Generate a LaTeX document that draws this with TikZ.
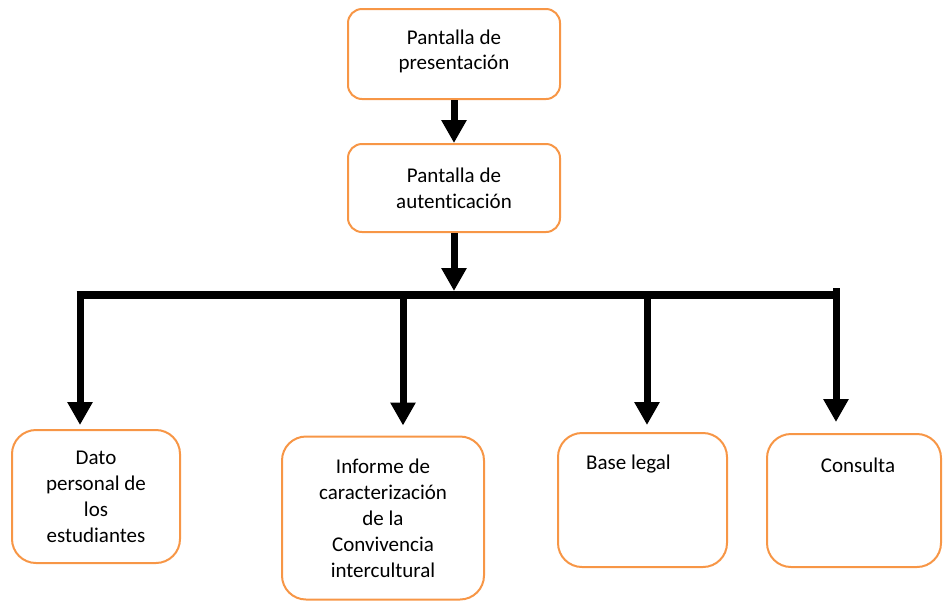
\documentclass[tikz,border=0pt]{standalone}
\usepackage{fontspec}
\setmainfont{Carlito}[Ligatures=NoCommon]
\usetikzlibrary{arrows.meta}
\definecolor{naranja}{RGB}{247,150,70}

\begin{document}
\begin{tikzpicture}[x=0.5pt,y=-0.5pt,
  every node/.style={font=\fontsize{10.5}{13}\selectfont},
  caja/.style={draw=naranja,line width=1pt,rounded corners=7pt,align=center},
  cajab/.style={caja,rounded corners=12pt},
  flecha/.style={line width=3.5pt,-{Triangle[width=12pt,length=11.5pt]}}]
  \useasboundingbox (0,0) rectangle (943,601);
  % pantallas de arriba
  \draw(454,54) node[caja,minimum width=106pt,minimum height=45pt,text depth=4pt] (pres) {Pantalla de\\[-0.5pt]presentación};
  \draw(454,188) node[caja,minimum width=106pt,minimum height=44pt] (aut) {Pantalla de\\autenticación};
  % modulos
  \draw(96,496.5) node[cajab,minimum width=84pt,minimum height=66.5pt] (dato) {Dato\\personal de\\los\\estudiantes};
  \draw(383,518) node[cajab,minimum width=101pt,minimum height=81.5pt] (inf) {Informe de\\caracterización\\de la\\Convivencia\\intercultural};
  \draw(642.5,500) node[cajab,minimum width=84.5pt,minimum height=67pt,
    label={[anchor=center,xshift=-7pt,yshift=-16pt]north:Base legal}] (base) {};
  \draw(854,500.5) node[cajab,minimum width=87pt,minimum height=66.5pt,
    label={[anchor=center,xshift=2pt,yshift=-16pt]north:Consulta}] (cons) {};
  \coordinate (barI) at (76.5,295);
  \coordinate (barD) at (836,295);
  \draw[flecha] (pres.south) -- (aut.north);
  \draw[flecha] (aut.south) -- (aut.south |- 0,291);
  \draw[line width=4pt] (barI) -- (barD);
  \foreach \x/\dest/\hueco/\ini in {80/dato/2/291,403/inf/5/291,647/base/3.5/291,836/cons/5.5/288}
    \draw[flecha,shorten >=\hueco pt] (\x,\ini) -- (\x,\ini |- \dest.north);
\end{tikzpicture}
\end{document}
